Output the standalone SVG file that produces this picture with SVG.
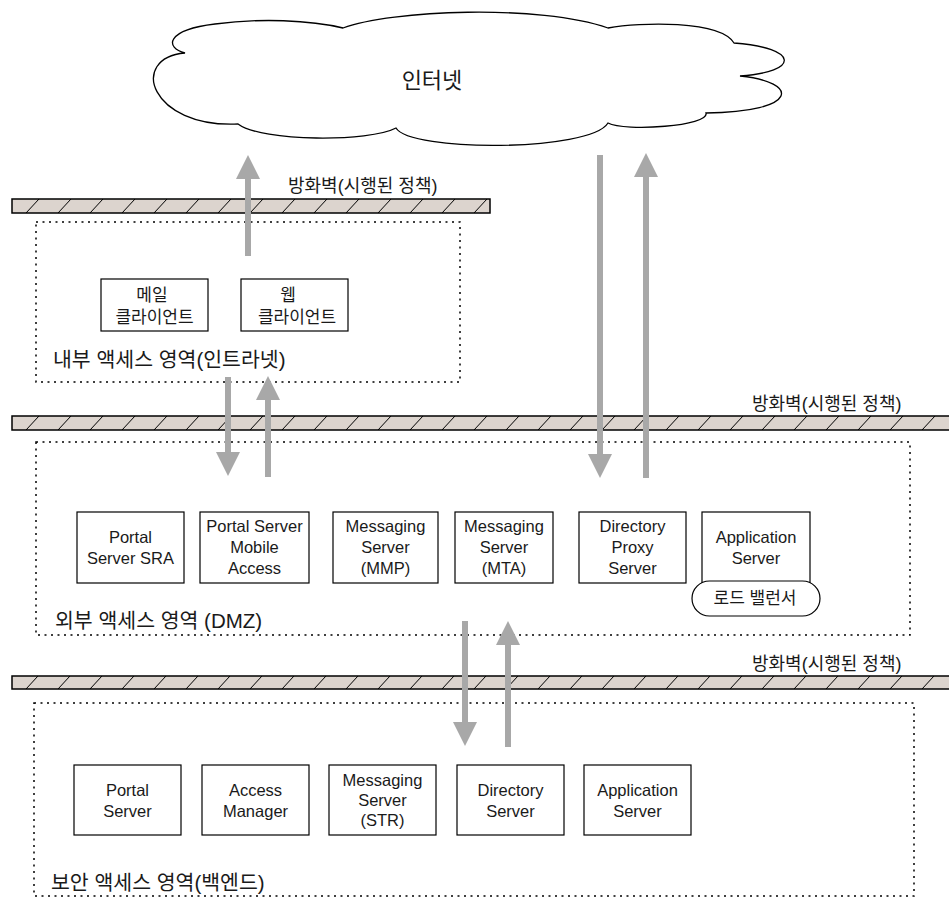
<svg xmlns="http://www.w3.org/2000/svg" width="949" height="899" viewBox="0 0 949 899">
<style>
  text { font-family: "Liberation Sans", "Noto Sans CJK KR", sans-serif; fill: #1a1a1a; }
  .box { fill: #ffffff; stroke: #000; stroke-width: 1.2; }
  .t { font-size: 16.5px; text-anchor: middle; }
  .k { font-size: 17px; text-anchor: middle; }
  .zone { fill: none; stroke: #000; stroke-width: 1.5; stroke-dasharray: 2 4.5; }
  .zl { font-size: 20.5px; }
  .fw { stroke: #000; stroke-width: 1.5; }
  .fwl { font-size: 18px; }
  .hatch { stroke: #000; stroke-width: 1; fill: none; }
  .arr { stroke: #a8a8a8; stroke-width: 6; fill: none; marker-end: url(#ah); }
</style>
<defs>
  <marker id="ah" viewBox="0 0 24 24" markerWidth="24" markerHeight="24" markerUnits="userSpaceOnUse" refX="0" refY="12" orient="auto">
    <path d="M0,0 L24,12 L0,24 Z" fill="#a8a8a8"/>
  </marker>
  <pattern id="h1" patternUnits="userSpaceOnUse" x="26" y="199" width="32" height="14">
    <rect width="32" height="14" fill="#dcd4ce"/>
    <path class="hatch" d="M0,14 L13,0"/>
  </pattern>
  <pattern id="h2" patternUnits="userSpaceOnUse" x="26" y="416" width="32" height="14">
    <rect width="32" height="14" fill="#dcd4ce"/>
    <path class="hatch" d="M0,14 L13,0"/>
  </pattern>
  <pattern id="h3" patternUnits="userSpaceOnUse" x="26" y="676" width="32" height="13">
    <rect width="32" height="13" fill="#dcd4ce"/>
    <path class="hatch" d="M0,13 L12,0"/>
  </pattern>
</defs>

<rect width="949" height="899" fill="#ffffff"/>

<g id="internet">
  <path d="M185,53 C165,48 165,30 215,24 C260,18 310,20 343,28 C390,10 540,4 608,28 C640,22 720,20 734,43 C800,48 800,72 740,76 C800,82 800,112 706,113 C710,126 625,132 608,123 C590,152 410,152 396,128 C370,142 262,142 238,124 C150,128 128,58 185,53 Z" fill="#ffffff" stroke="#000" stroke-width="1.3"/>
  <text x="432" y="88" style="font-size:22px;text-anchor:middle">인터넷</text>
</g>

<g id="firewall-top">
  <rect class="fw" x="12" y="199" width="478" height="14" fill="url(#h1)"/>
  <text class="fwl" x="288" y="192">방화벽(시행된 정책)</text>
</g>

<g id="intranet">
  <rect class="zone" x="36" y="222" width="424" height="160"/>
  <text class="zl" x="53" y="367">내부 액세스 영역(인트라넷)</text>
</g>
<g id="mail-client">
  <rect class="box" x="101" y="279" width="107" height="52"/>
  <text class="k" x="152" y="301">메일</text>
  <text class="k" x="154.5" y="323">클라이언트</text>
</g>
<g id="web-client">
  <rect class="box" x="241" y="279" width="107" height="52"/>
  <text class="k" x="288" y="301">웹</text>
  <text class="k" x="297" y="323">클라이언트</text>
</g>

<g id="firewall-mid">
  <rect class="fw" x="12" y="416" width="940" height="14" fill="url(#h2)"/>
  <text class="fwl" x="752" y="410">방화벽(시행된 정책)</text>
</g>

<g id="dmz">
  <rect class="zone" x="36" y="442" width="874" height="193"/>
  <text class="zl" x="55" y="628">외부 액세스 영역 (DMZ)</text>
</g>
<g id="portal-sra">
  <rect class="box" x="77" y="512" width="107" height="71"/>
  <text class="t" x="130.5" y="543">Portal</text>
  <text class="t" x="130.5" y="564">Server SRA</text>
</g>
<g id="portal-mobile">
  <rect class="box" x="200" y="512" width="109" height="71"/>
  <text class="t" x="254.5" y="532">Portal Server</text>
  <text class="t" x="254.5" y="553">Mobile</text>
  <text class="t" x="254.5" y="574">Access</text>
</g>
<g id="msg-mmp">
  <rect class="box" x="333" y="512" width="105" height="71"/>
  <text class="t" x="385.5" y="532">Messaging</text>
  <text class="t" x="385.5" y="553">Server</text>
  <text class="t" x="385.5" y="574">(MMP)</text>
</g>
<g id="msg-mta">
  <rect class="box" x="455" y="512" width="98" height="71"/>
  <text class="t" x="504" y="532">Messaging</text>
  <text class="t" x="504" y="553">Server</text>
  <text class="t" x="504" y="574">(MTA)</text>
</g>
<g id="dir-proxy">
  <rect class="box" x="579" y="512" width="107" height="71"/>
  <text class="t" x="632.5" y="532">Directory</text>
  <text class="t" x="632.5" y="553">Proxy</text>
  <text class="t" x="632.5" y="574">Server</text>
</g>
<g id="app-dmz">
  <rect class="box" x="702" y="512" width="108" height="80"/>
  <text class="t" x="756" y="543">Application</text>
  <text class="t" x="756" y="564">Server</text>
</g>
<g id="load-balancer">
  <rect class="box" x="692" y="581" width="128" height="35" rx="17.5" ry="17.5"/>
  <text x="755" y="604" style="font-size:17px;text-anchor:middle">로드 밸런서</text>
</g>

<g id="firewall-bottom">
  <rect class="fw" x="12" y="676" width="940" height="13" fill="url(#h3)"/>
  <text class="fwl" x="752" y="670">방화벽(시행된 정책)</text>
</g>

<g id="backend">
  <rect class="zone" x="34" y="703" width="880" height="193"/>
  <text class="zl" x="51" y="890">보안 액세스 영역(백엔드)</text>
</g>
<g id="portal-server">
  <rect class="box" x="74" y="765" width="107" height="70"/>
  <text class="t" x="127.5" y="796">Portal</text>
  <text class="t" x="127.5" y="817">Server</text>
</g>
<g id="access-manager">
  <rect class="box" x="202" y="765" width="107" height="70"/>
  <text class="t" x="255.5" y="796">Access</text>
  <text class="t" x="255.5" y="817">Manager</text>
</g>
<g id="msg-str">
  <rect class="box" x="329" y="765" width="107" height="70"/>
  <text class="t" x="382.5" y="786">Messaging</text>
  <text class="t" x="382.5" y="806">Server</text>
  <text class="t" x="382.5" y="826">(STR)</text>
</g>
<g id="dir-server">
  <rect class="box" x="457" y="765" width="107" height="70"/>
  <text class="t" x="510.5" y="796">Directory</text>
  <text class="t" x="510.5" y="817">Server</text>
</g>
<g id="app-backend">
  <rect class="box" x="584" y="765" width="107" height="70"/>
  <text class="t" x="637.5" y="796">Application</text>
  <text class="t" x="637.5" y="817">Server</text>
</g>

<g id="connectors">
  <line class="arr" x1="248" y1="256" x2="248" y2="179"/>
  <line class="arr" x1="600" y1="155" x2="600" y2="454"/>
  <line class="arr" x1="646" y1="478" x2="646" y2="177"/>
  <line class="arr" x1="228" y1="377" x2="228" y2="452"/>
  <line class="arr" x1="268" y1="477" x2="268" y2="400"/>
  <line class="arr" x1="465" y1="621" x2="465" y2="722"/>
  <line class="arr" x1="508" y1="747" x2="508" y2="645"/>
</g>
</svg>
